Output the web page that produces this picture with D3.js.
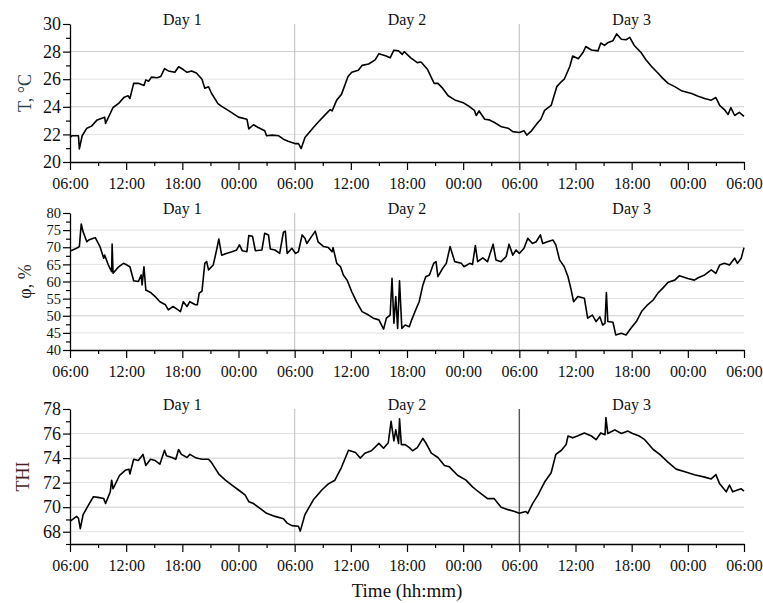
<!DOCTYPE html>
<html>
<head>
<meta charset="utf-8">
<script src="https://cdn.jsdelivr.net/npm/d3@7"></script>
<style>
  body { margin: 0; background: #fff; }
  svg, svg text { font-family: "Liberation Serif", "Times New Roman", serif; }
  .domain { stroke: #000; stroke-width: 1.3; }
  .tick line { stroke: #000; stroke-width: 1.2; }
  .tick text { fill: #111; }
</style>
</head>
<body>
<div id="chart"></div>
<script>
// hours since 06:00 of day 1, and the readings
var tHours = [0, 0.2, 0.9, 1.0, 1.3, 1.8, 2.3, 2.9, 3.7, 3.8, 4.6, 5.2, 5.8, 6.2, 6.4, 6.8, 7.3, 7.9, 8.1, 8.4, 8.7, 9.3, 9.7, 10.1, 10.5, 11.2, 11.6, 12.1, 12.5, 13.0, 13.5, 14.1, 14.4, 14.8, 15.1, 15.8, 16.2, 16.9, 18.0, 18.9, 19.1, 19.6, 20.1, 20.8, 21.0, 21.6, 22.3, 22.8, 23.3, 24.1, 24.4, 24.7, 25.1, 26.0, 26.5, 27.3, 27.8, 28.0, 28.5, 29.0, 29.7, 30.1, 30.8, 31.2, 31.9, 32.6, 33.0, 33.7, 34.2, 34.6, 35.1, 35.5, 35.7, 36.4, 37.1, 37.5, 38.2, 38.9, 39.3, 39.8, 40.4, 41.1, 42.0, 42.7, 43.2, 43.4, 43.7, 44.3, 44.8, 45.3, 46.1, 46.8, 47.3, 48.0, 48.5, 48.8, 49.3, 50.0, 50.3, 50.7, 51.4, 52.0, 52.5, 52.8, 53.4, 53.7, 54.3, 54.8, 55.1, 55.7, 56.4, 56.7, 57.1, 57.5, 58.0, 58.4, 58.9, 59.4, 59.8, 60.3, 61.0, 61.5, 62.1, 62.8, 63.3, 63.9, 64.6, 65.3, 66.4, 67.1, 67.8, 68.5, 69.0, 69.4, 69.9, 70.3, 70.6, 71.0, 71.5, 72.0];
var tValues = [21.77, 21.9, 21.9, 20.95, 21.9, 22.45, 22.6, 23.05, 23.25, 22.8, 23.95, 24.25, 24.7, 24.8, 24.6, 25.7, 25.7, 25.55, 25.95, 25.85, 26.15, 26.1, 26.2, 26.77, 26.6, 26.5, 26.9, 26.7, 26.5, 26.6, 26.45, 26.0, 25.35, 25.45, 25.0, 24.23, 24.03, 23.74, 23.25, 23.1, 22.4, 22.7, 22.5, 22.26, 21.9, 21.95, 21.9, 21.65, 21.5, 21.33, 21.33, 20.98, 21.77, 22.5, 22.88, 23.45, 23.8, 23.7, 24.5, 24.9, 26.2, 26.5, 26.65, 27.0, 27.1, 27.4, 27.85, 27.7, 27.55, 28.1, 28.05, 27.8, 28.0, 27.55, 27.2, 27.25, 26.7, 25.7, 25.7, 25.35, 24.8, 24.5, 24.3, 24.0, 23.74, 23.37, 23.7, 23.1, 23.05, 22.88, 22.55, 22.45, 22.2, 22.14, 22.26, 21.95, 22.26, 22.88, 23.1, 23.74, 24.1, 25.46, 25.83, 26.0, 26.94, 27.68, 27.48, 27.93, 28.37, 28.12, 28.05, 28.62, 28.45, 28.66, 28.79, 29.28, 28.9, 28.86, 29.03, 28.42, 27.93, 27.43, 26.94, 26.45, 26.08, 25.7, 25.46, 25.17, 24.97, 24.77, 24.6, 24.48, 24.67, 24.1, 23.8, 23.45, 23.94, 23.37, 23.6, 23.3];

var rhHours = [0.1, 0.7, 1.0, 1.2, 1.4, 1.8, 2.0, 2.5, 2.7, 3.2, 3.6, 3.7, 4.1, 4.45, 4.5, 4.6, 5.2, 5.7, 6.1, 6.4, 6.8, 7.3, 7.6, 7.7, 7.9, 8.1, 8.6, 9.1, 9.6, 10.2, 10.5, 11.0, 11.4, 11.8, 12.1, 12.5, 12.8, 13.4, 13.6, 13.8, 14.1, 14.4, 14.6, 14.8, 15.3, 15.7, 15.9, 16.2, 16.7, 17.3, 17.8, 18.1, 18.4, 18.9, 19.1, 19.5, 19.8, 20.5, 20.8, 21.2, 21.4, 21.9, 22.4, 22.8, 23.0, 23.2, 23.7, 24.1, 24.4, 24.8, 25.1, 25.3, 25.8, 26.2, 26.5, 27.1, 27.6, 28.0, 28.1, 28.5, 28.9, 29.2, 29.6, 30.1, 30.6, 31.2, 31.9, 32.4, 33.0, 33.5, 33.8, 34.2, 34.4, 34.6, 34.8, 35.0, 35.2, 35.45, 35.8, 36.25, 36.5, 37.0, 37.3, 37.7, 38.0, 38.4, 38.85, 39.1, 39.3, 39.8, 40.2, 40.6, 41.1, 41.8, 42.1, 42.7, 43.0, 43.3, 43.55, 44.1, 44.6, 45.2, 45.5, 46.05, 46.6, 46.9, 47.3, 47.65, 48.0, 48.5, 48.9, 49.4, 49.8, 50.25, 50.5, 51.0, 51.6, 51.9, 52.3, 52.8, 53.2, 53.5, 53.8, 54.25, 54.95, 55.3, 55.8, 56.2, 56.6, 56.9, 57.15, 57.3, 57.45, 58.0, 58.3, 58.9, 59.4, 59.9, 60.5, 61.1, 61.7, 62.3, 62.8, 63.3, 63.9, 64.6, 65.1, 66.0, 66.7, 67.1, 67.8, 68.5, 69.0, 69.4, 69.9, 70.45, 71.0, 71.3, 71.7, 72.0];
var rhValues = [69.0, 69.7, 70.2, 76.8, 74.5, 71.6, 72.1, 72.6, 72.8, 70.2, 66.8, 67.7, 64.8, 62.9, 70.9, 62.4, 64.3, 65.3, 64.8, 64.3, 60.2, 60.0, 61.9, 59.0, 64.3, 57.5, 56.8, 55.6, 54.1, 53.2, 51.7, 52.7, 52.0, 51.2, 54.1, 52.7, 54.1, 53.2, 53.2, 56.6, 57.2, 65.3, 65.8, 63.4, 64.8, 69.7, 72.4, 67.7, 68.2, 68.7, 69.2, 70.7, 69.0, 68.7, 73.4, 73.2, 69.0, 69.2, 74.1, 73.6, 69.5, 69.2, 68.2, 74.4, 74.7, 68.2, 69.7, 68.2, 68.7, 73.6, 72.6, 71.1, 73.1, 74.7, 71.6, 70.2, 69.9, 68.7, 69.9, 65.3, 64.3, 61.9, 60.4, 57.0, 54.1, 51.2, 50.2, 49.3, 48.8, 46.1, 49.3, 50.2, 60.9, 47.8, 55.6, 46.3, 60.2, 46.3, 47.3, 46.8, 48.8, 52.2, 54.1, 59.0, 61.4, 61.9, 65.3, 65.8, 61.4, 63.8, 65.3, 70.2, 65.8, 65.3, 64.3, 65.3, 65.0, 70.5, 65.8, 66.9, 65.8, 70.9, 66.3, 65.8, 67.3, 70.9, 67.7, 69.2, 68.2, 69.7, 72.6, 71.1, 71.6, 73.6, 71.1, 71.6, 72.1, 70.7, 66.3, 64.3, 61.4, 58.0, 54.1, 55.6, 55.1, 49.3, 50.2, 48.3, 49.7, 47.3, 47.8, 56.8, 48.3, 48.1, 44.4, 44.9, 44.4, 46.3, 48.3, 51.4, 53.2, 54.6, 56.6, 58.0, 59.8, 60.4, 61.7, 60.9, 60.4, 61.1, 61.9, 63.4, 62.4, 64.8, 65.3, 64.8, 66.8, 65.3, 66.8, 69.9];

var thiHours = [0, 0.7, 0.9, 1.1, 1.4, 2.0, 2.5, 3.0, 3.6, 3.8, 4.3, 4.45, 4.6, 5.3, 5.9, 6.3, 6.4, 6.8, 7.3, 7.8, 8.1, 8.6, 9.1, 9.6, 10.1, 10.3, 10.9, 11.3, 11.6, 11.9, 12.5, 12.8, 13.5, 14.1, 14.8, 15.1, 15.9, 16.6, 17.3, 18.0, 18.7, 19.1, 19.6, 20.3, 21.0, 21.9, 22.8, 23.2, 23.7, 24.4, 24.6, 25.1, 26.0, 26.9, 27.6, 28.3, 29.0, 29.75, 30.5, 31.0, 31.5, 32.2, 33.0, 33.5, 34.0, 34.3, 34.6, 34.8, 35.1, 35.2, 35.4, 35.8, 36.25, 36.6, 37.1, 37.7, 38.0, 38.6, 39.3, 40.0, 40.5, 41.4, 42.3, 43.0, 43.4, 43.9, 44.6, 45.3, 46.05, 46.8, 47.5, 48.0, 48.7, 48.9, 49.4, 50.0, 50.7, 51.4, 51.9, 52.5, 53.0, 53.2, 53.7, 54.2, 54.95, 55.7, 56.2, 56.7, 57.15, 57.25, 57.45, 58.2, 58.9, 59.6, 60.1, 60.8, 61.4, 62.3, 63.0, 63.9, 64.75, 65.6, 66.7, 67.8, 68.5, 69.0, 69.4, 70.1, 70.45, 70.8, 71.3, 71.7, 72.0];
var thiValues = [68.85, 69.25, 69.1, 68.25, 69.4, 70.2, 70.85, 70.8, 70.7, 70.3, 71.25, 72.2, 71.5, 72.6, 73.0, 73.1, 72.7, 73.9, 73.8, 74.3, 73.4, 73.9, 73.8, 73.5, 74.64, 74.2, 74.05, 73.9, 74.7, 74.3, 74.05, 74.3, 74.0, 73.9, 73.9, 73.65, 72.7, 72.2, 71.8, 71.4, 71.0, 70.45, 70.3, 69.9, 69.5, 69.25, 69.05, 68.7, 68.5, 68.45, 68.05, 69.4, 70.6, 71.4, 71.9, 72.2, 73.25, 74.64, 74.45, 74.0, 74.4, 74.6, 75.2, 74.8, 75.25, 77.0, 75.4, 76.3, 75.2, 77.2, 75.1, 75.1, 74.85, 74.6, 74.85, 75.6, 75.25, 74.4, 74.05, 73.4, 73.3, 72.6, 72.2, 71.65, 71.4, 71.1, 70.7, 70.7, 70.0, 69.8, 69.65, 69.5, 69.65, 69.5, 70.27, 71.0, 72.05, 72.8, 74.3, 74.64, 75.1, 75.8, 75.65, 75.8, 76.05, 75.8, 75.5, 76.05, 75.9, 77.3, 76.0, 76.3, 76.0, 76.2, 76.0, 75.8, 75.5, 74.7, 74.3, 73.65, 73.1, 72.9, 72.65, 72.45, 72.3, 72.65, 71.9, 71.25, 71.8, 71.25, 71.4, 71.5, 71.3];

var xMajor = [0, 6, 12, 18, 24, 30, 36, 42, 48, 54, 60, 66, 72];
var xMinor = [3, 9, 15, 21, 27, 33, 39, 45, 51, 57, 63, 69];
var xTickLabels = ["06:00", "12:00", "18:00", "00:00", "06:00", "12:00", "18:00", "00:00", "06:00", "12:00", "18:00", "00:00", "06:00"];
var dayNames = ["Day 1", "Day 2", "Day 3"];
var dayCenters = [12, 36, 60];
var daySeparators = [24, 48];

var tMajor = [20, 22, 24, 26, 28, 30];
var tMinor = [21, 23, 25, 27, 29];
var rhMajor = [40, 45, 50, 55, 60, 65, 70, 75, 80];
var rhMinor = [42.5, 47.5, 52.5, 57.5, 62.5, 67.5, 72.5, 77.5];
var thiMajor = [68, 70, 72, 74, 76, 78];
var thiMinor = [67, 69, 71, 73, 75, 77];

var W = 763, H = 603;
var left = 70, right = 744;
var serif = "'Liberation Serif', 'Times New Roman', serif";

var svg = d3.select("#chart").append("svg")
  .attr("width", W)
  .attr("height", H);

svg.append("rect").attr("width", W).attr("height", H).attr("fill", "#fff");

var x = d3.scaleLinear().domain([0, 72]).range([left, right]);

var panels = [
  { hours: tHours, values: tValues, domain: [20, 30], top: 24, bottom: 162,
    major: tMajor, minor: tMinor, title: "T, °C", titleColor: "#27434e", titleX: 31, tickFont: 18, sepDark: false },
  { hours: rhHours, values: rhValues, domain: [40, 80], top: 213, bottom: 350,
    major: rhMajor, minor: rhMinor, title: "φ, %", titleColor: "#1e1e1e", titleX: 31, tickFont: 14.5, sepDark: false },
  { hours: thiHours, values: thiValues, domain: [67, 78], top: 409, bottom: 544,
    major: thiMajor, minor: thiMinor, title: "THI", titleColor: "#4a1f24", titleX: 29, tickFont: 18, sepDark: true }
];

panels.forEach(function (p, i) {
  var y = d3.scaleLinear().domain(p.domain).range([p.bottom, p.top]);
  var g = svg.append("g");

  // horizontal grid
  g.selectAll(".grid")
    .data(p.major.filter(function (v) { return v > p.domain[0] && v < p.domain[1]; }))
    .enter().append("line")
    .attr("x1", left).attr("x2", right)
    .attr("y1", function (d) { return y(d); })
    .attr("y2", function (d) { return y(d); })
    .attr("stroke", function (d, k) { return k % 2 ? "#cdcdcd" : "#e2e2e2"; })
    .attr("stroke-width", 1);

  // day separators
  g.selectAll(".sep")
    .data(daySeparators)
    .enter().append("line")
    .attr("x1", function (d) { return x(d); })
    .attr("x2", function (d) { return x(d); })
    .attr("y1", p.top).attr("y2", p.bottom)
    .attr("stroke", function (d, k) { return (p.sepDark && k === 1) ? "#555" : "#c8c8c8"; })
    .attr("stroke-width", function (d, k) { return (p.sepDark && k === 1) ? 1.4 : 1.2; });

  // the series
  var line = d3.line()
    .x(function (d) { return x(d[0]); })
    .y(function (d) { return y(d[1]); });

  g.append("path")
    .datum(d3.zip(p.hours, p.values))
    .attr("fill", "none")
    .attr("stroke", "#000")
    .attr("stroke-width", 1.6)
    .attr("stroke-linejoin", "round")
    .attr("d", line);

  // x axis
  var xAxis = g.append("g")
    .attr("transform", "translate(0," + p.bottom + ")")
    .call(d3.axisBottom(x).tickValues(xMajor).tickSize(8).tickSizeOuter(0).tickPadding(8)
      .tickFormat(function (d, k) { return xTickLabels[k]; }));
  xAxis.attr("font-family", serif).attr("font-size", 16);

  g.append("g")
    .attr("transform", "translate(0," + p.bottom + ")")
    .call(d3.axisBottom(x).tickValues(xMinor).tickSize(4).tickFormat(""))
    .select(".domain").remove();

  // y axis
  var yAxis = g.append("g")
    .attr("transform", "translate(" + left + ",0)")
    .call(d3.axisLeft(y).tickValues(p.major).tickSize(7).tickSizeOuter(0).tickPadding(2));
  yAxis.attr("font-family", serif).attr("font-size", p.tickFont);

  g.append("g")
    .attr("transform", "translate(" + left + ",0)")
    .call(d3.axisLeft(y).tickValues(p.minor).tickSize(4).tickFormat(""))
    .select(".domain").remove();

  // day labels
  g.selectAll(".day")
    .data(dayNames)
    .enter().append("text")
    .attr("x", function (d, k) { return x(dayCenters[k]); })
    .attr("y", p.top + 1)
    .attr("text-anchor", "middle")
    .attr("font-size", 16)
    .attr("fill", "#111")
    .text(function (d) { return d; });

  // y title
  g.append("text")
    .attr("transform", "translate(" + p.titleX + "," + ((p.top + p.bottom) / 2) + ") rotate(-90)")
    .attr("text-anchor", "middle")
    .attr("font-size", 18)
    .attr("fill", p.titleColor)
    .text(p.title);
});

svg.append("text")
  .attr("x", (left + right) / 2)
  .attr("y", 597)
  .attr("text-anchor", "middle")
  .attr("font-size", 19)
  .attr("fill", "#111")
  .text("Time (hh:mm)");
</script>
</body>
</html>
